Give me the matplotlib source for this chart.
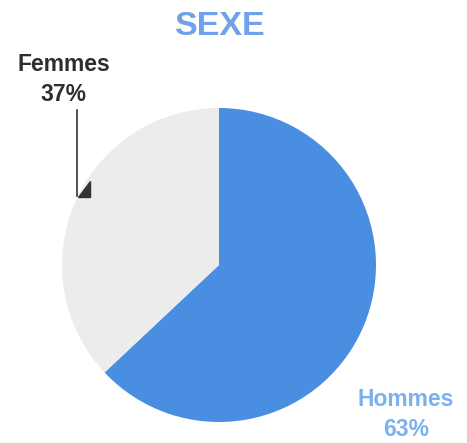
import matplotlib.pyplot as plt
from matplotlib.patches import Polygon

plt.rcParams['font.family'] = ['Liberation Sans', 'DejaVu Sans']

labels = ['Hommes', 'Femmes']
values = [63, 37]
colors = ['#4a8ee2', '#ececec']

W, H = 467, 443
fig = plt.figure(figsize=(W / 100, H / 100), dpi=100)

# pie axes, centre ~ (219, 265) px, radius ~157 px
cx, cy, r = 219, 265, 157
ax = fig.add_axes([(cx - r) / W, 1 - (cy + r) / H, 2 * r / W, 2 * r / H])
ax.pie(values, colors=colors, startangle=90, counterclock=False,
       wedgeprops=dict(linewidth=0))
ax.set_aspect('auto')
ax.set_xlim(-1, 1)
ax.set_ylim(-1, 1)
ax.axis('off')

# overlay axes in pixel coordinates for the text
ov = fig.add_axes([0, 0, 1, 1])
ov.set_xlim(0, W)
ov.set_ylim(H, 0)
ov.axis('off')

ov.text(220, 26, 'SEXE', ha='center', va='center', fontsize=24.5,
        fontweight='bold', color='#6fa2ea')

ov.text(64, 64, labels[1], ha='center', va='center', fontsize=16.5,
        fontweight='bold', color='#2e2e2e')
ov.text(63, 94, f'{values[1]}%', ha='center', va='center', fontsize=16.5,
        fontweight='bold', color='#2e2e2e')
ov.plot([77, 77], [110, 196], color='#333333', lw=1.2)
ov.add_patch(Polygon([[78, 197], [90, 197], [90, 181]], closed=True,
                     color='#333333'))

ov.text(406, 400, labels[0], ha='center', va='center', fontsize=16.5,
        fontweight='bold', color='#7ab0ee')
ov.text(406, 430, f'{values[0]}%', ha='center', va='center', fontsize=16.5,
        fontweight='bold', color='#7ab0ee')

fig.savefig('out.png', dpi=100)
